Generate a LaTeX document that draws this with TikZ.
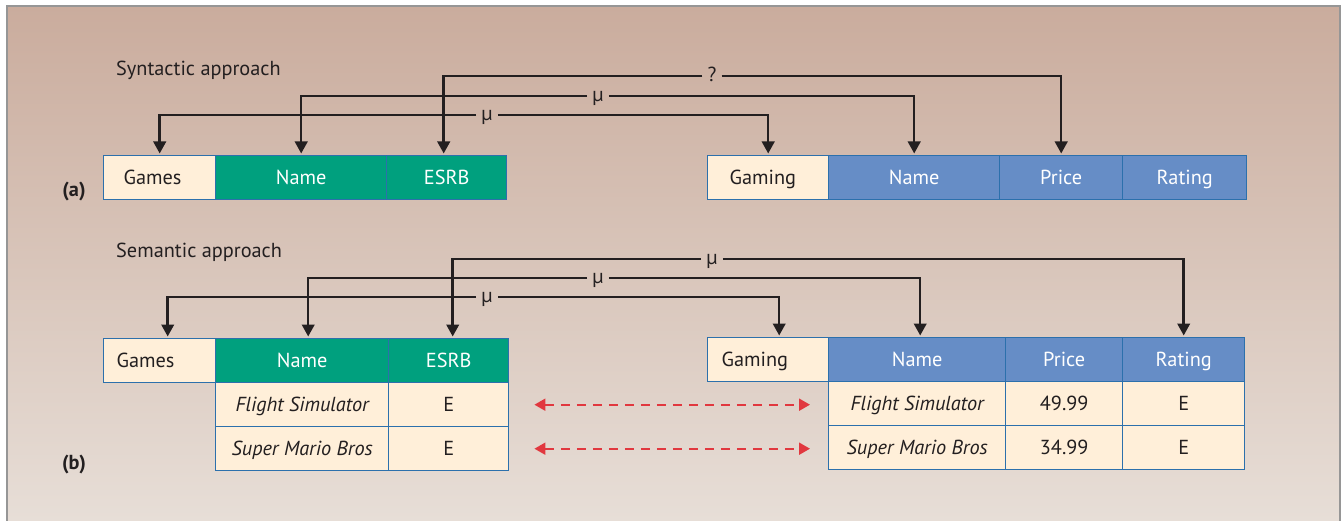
\documentclass[tikz,border=0pt]{standalone}
\usepackage{fontspec}
\setmainfont{PT Sans}
\usetikzlibrary{arrows.meta}
\definecolor{bgtop}{RGB}{202,172,157}
\definecolor{bgbot}{RGB}{231,222,215}
\definecolor{framec}{RGB}{150,150,150}
\definecolor{hgreen}{RGB}{0,160,126}
\definecolor{hblue}{RGB}{102,141,198}
\definecolor{cream}{RGB}{255,239,217}
\definecolor{bord}{RGB}{44,112,172}
\definecolor{ink}{RGB}{35,31,32}
\definecolor{redc}{RGB}{225,56,63}
\newcommand{\cellfont}{\fontsize{20.3}{24}\selectfont}
\tikzset{
  cell/.style={draw=bord, line width=1.4pt, minimum height=44pt, inner sep=0pt,
    anchor=north west, text height=14pt, text depth=0pt, font=\cellfont},
  hdrg/.style={cell, fill=hgreen, text=white},
  hdrb/.style={cell, fill=hblue, text=white},
  datac/.style={cell, fill=cream, text=ink},
  itc/.style={datac, font=\cellfont\itshape},
  keyc/.style={cell, fill=cream, text=ink, align=left},
  lbl/.style={inner xsep=5pt, inner ysep=0pt, text height=11pt, text depth=0pt, text=ink, font=\cellfont},
  conn/.style={draw=ink, line width=2.5pt, -{Triangle[length=12pt,width=12.5pt]}, shorten >=1.5pt},
  match/.style={draw=redc, line width=2pt, dash pattern=on 9pt off 7pt,
    {Triangle[length=11pt,width=12pt]}-{Triangle[length=11pt,width=12pt]}},
  title/.style={anchor=west, text=ink, font=\cellfont, inner sep=0pt},
  part/.style={text=ink, font=\cellfont\bfseries, inner sep=0pt},
}
\begin{document}
\begin{tikzpicture}[x=1pt,y=-1pt]
\useasboundingbox (0,0) rectangle (1341,521);
\fill[white] (0,0) rectangle (1341,521);
\shade[top color=bgtop, bottom color=bgbot] (7,6) rectangle (1341,521);
\draw[framec, line width=1.5pt] (7,521) -- (7,6) -- (1340,6) -- (1340,521);

% titles
\node[title] (synt) at (116,70) {Syntactic approach};
\node[title] (sem) at (116,252) {Semantic approach};
\node[part] (pa) at (74,192) {(a)};
\node[part] (pb) at (74,465) {(b)};

% (a) tables
\node[keyc, inner xsep=20pt, text width=72pt] (aGames) at (103,155) {Games};
\node[hdrg, minimum width=171pt] (aName) at (215,155) {Name};
\node[hdrg, minimum width=120pt] (aESRB) at (386,155) {ESRB};
\node[keyc, inner xsep=22pt, text width=77pt] (aGaming) at (707,155) {Gaming};
\node[hdrb, minimum width=171pt] (aName2) at (828,155) {Name};
\node[hdrb, minimum width=123pt] (aPrice) at (999,155) {Price};
\node[hdrb, minimum width=124pt] (aRating) at (1122,155) {Rating};

% (a) connectors
\node[lbl] (ma1) at (487,115) {µ};
\node[lbl] (ma2) at (598,96) {µ};
\node[lbl] (ma3) at (712,76) {?};
\draw[conn] (ma1.west) -| (aGames.north);
\draw[conn] (ma1.east) -| (aGaming.north);
\draw[conn] (ma2.west) -| (aName.north);
\draw[conn] (ma2.east) -| (aName2.north);
\draw[conn] (ma3.west) -| ([xshift=-3pt]aESRB.north);
\draw[conn] (ma3.east) -| (aPrice.north);

% (b) tables
\node[keyc, inner xsep=13pt, text width=86pt] (bGames) at (103,338) {Games};
\node[hdrg, minimum width=173pt] (bName) at (215,338) {Name};
\node[hdrg, minimum width=120pt] (bESRB) at (388,338) {ESRB};
\node[itc, minimum width=173pt] (bN1) at (215,382) {Flight Simulator};
\node[datac, minimum width=120pt] (bE1) at (388,382) {E};
\node[itc, minimum width=173pt] (bN2) at (215,426) {Super Mario Bros};
\node[datac, minimum width=120pt] (bE2) at (388,426) {E};

\node[keyc, inner xsep=14pt, text width=93pt] (bGaming) at (707,337) {Gaming};
\node[hdrb, minimum width=177pt] (bName2) at (828,337) {Name};
\node[hdrb, minimum width=117pt] (bPrice) at (1005,337) {Price};
\node[hdrb, minimum width=122pt] (bRating) at (1122,337) {Rating};
\node[itc, minimum width=177pt] (bN3) at (828,381) {Flight Simulator};
\node[datac, minimum width=117pt] (bP1) at (1005,381) {49.99};
\node[datac, minimum width=122pt] (bR1) at (1122,381) {E};
\node[itc, minimum width=177pt] (bN4) at (828,425) {Super Mario Bros};
\node[datac, minimum width=117pt] (bP2) at (1005,425) {34.99};
\node[datac, minimum width=122pt] (bR2) at (1122,425) {E};

% (b) connectors
\node[lbl] (mb1) at (487,297) {µ};
\node[lbl] (mb2) at (598,278) {µ};
\node[lbl] (mb3) at (712,259) {µ};
\draw[conn] (mb1.west) -| ([xshift=8pt]bGames.north);
\draw[conn] (mb1.east) -| ([xshift=11pt]bGaming.north);
\draw[conn] (mb2.west) -| ([xshift=6pt]bName.north);
\draw[conn] (mb2.east) -| ([xshift=3pt]bName2.north);
\draw[conn] (mb3.west) -| ([xshift=4pt]bESRB.north);
\draw[conn] (mb3.east) -| (bRating.north);

% value matches
\draw[match, shorten <=25pt, shorten >=18pt] (bE1.east) -- (bE1.east -| bN3.west);
\draw[match, shorten <=25pt, shorten >=18pt] (bE2.east) -- (bE2.east -| bN4.west);
\end{tikzpicture}
\end{document}
